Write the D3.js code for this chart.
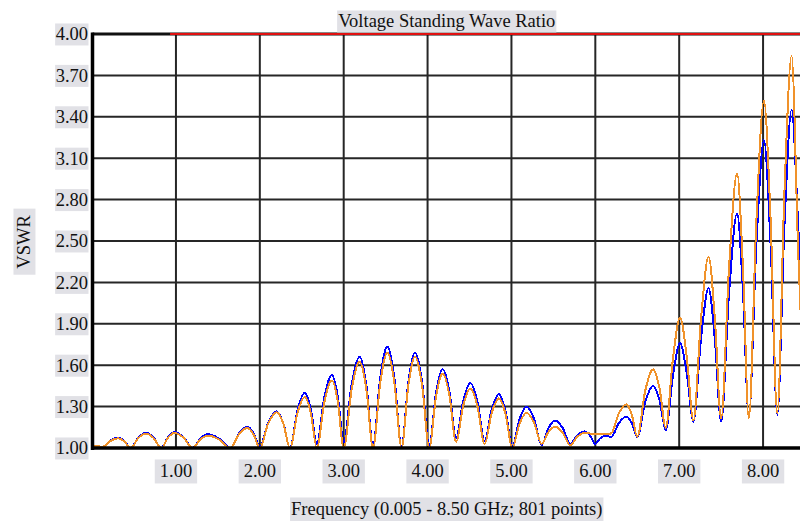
<!DOCTYPE html>
<html>
<head>
<meta charset="utf-8">
<script src="https://cdn.jsdelivr.net/npm/d3@7"></script>
<style>
    body { margin: 0; background: #fff; }
    text { font-family: "Liberation Serif", "Times New Roman", serif; fill: #111; }
</style>
</head>
<body>
<svg id="chart"></svg>
<script>
// values: nulls, flanks and peaks of each lobe
var freqs = [0.005, 0.13, 0.22, 0.31, 0.385, 0.46, 0.55, 0.645, 0.735, 0.825,
    0.905, 0.985, 1.09, 1.20, 1.29, 1.38, 1.515, 1.65, 1.75, 1.85,
    1.925, 2.00, 2.10, 2.20, 2.28, 2.36, 2.448, 2.536, 2.608, 2.68,
    2.77, 2.86, 2.93, 3.00, 3.095, 3.19, 3.27, 3.35, 3.435, 3.52,
    3.605, 3.69, 3.77, 3.85, 3.935, 4.02, 4.10, 4.18, 4.26, 4.34,
    4.425, 4.51, 4.595, 4.68, 4.765, 4.85, 4.93, 5.01, 5.095, 5.18,
    5.27, 5.36, 5.44, 5.52, 5.61, 5.70, 5.785, 5.87, 5.935, 6.00,
    6.055, 6.11, 6.15, 6.19, 6.28, 6.37, 6.435, 6.50, 6.595, 6.69,
    6.765, 6.84, 6.925, 7.01, 7.09, 7.17, 7.26, 7.35, 7.425, 7.50,
    7.595, 7.69, 7.76, 7.83, 7.92, 8.01, 8.09, 8.17, 8.255, 8.34,
    8.42, 8.50];
var vswrBlue = [1.015, 1.01, 1.054, 1.075, 1.051, 1.00, 1.075, 1.11, 1.075, 1.00,
    1.078, 1.115, 1.078, 1.00, 1.068, 1.10, 1.068, 1.00, 1.105, 1.155,
    1.109, 1.01, 1.183, 1.265, 1.18, 1.00, 1.272, 1.40, 1.282, 1.03,
    1.37, 1.53, 1.373, 1.04, 1.462, 1.66, 1.455, 1.02, 1.506, 1.735,
    1.503, 1.01, 1.472, 1.69, 1.476, 1.02, 1.394, 1.57, 1.41, 1.07,
    1.342, 1.47, 1.336, 1.05, 1.281, 1.39, 1.268, 1.01, 1.207, 1.30,
    1.21, 1.02, 1.142, 1.20, 1.146, 1.03, 1.091, 1.12, 1.091, 1.03,
    1.069, 1.087, 1.085, 1.08, 1.18, 1.227, 1.18, 1.08, 1.332, 1.45,
    1.348, 1.13, 1.521, 1.76, 1.543, 1.19, 1.79, 2.157, 1.79, 1.19,
    2.126, 2.70, 2.14, 1.227, 2.469, 3.23, 2.474, 1.24, 2.61, 3.45,
    2.6, 1.50];
var vswrOrange = [1.015, 1.01, 1.051, 1.07, 1.048, 1.00, 1.071, 1.105, 1.071, 1.00,
    1.075, 1.11, 1.075, 1.00, 1.061, 1.09, 1.061, 1.00, 1.099, 1.145,
    1.099, 1.00, 1.177, 1.26, 1.177, 1.00, 1.252, 1.37, 1.252, 1.00,
    1.333, 1.49, 1.333, 1.00, 1.425, 1.625, 1.425, 1.00, 1.469, 1.69,
    1.469, 1.00, 1.449, 1.66, 1.449, 1.00, 1.367, 1.54, 1.382, 1.045,
    1.307, 1.43, 1.302, 1.03, 1.254, 1.36, 1.245, 1.00, 1.173, 1.255,
    1.183, 1.03, 1.115, 1.155, 1.112, 1.02, 1.081, 1.11, 1.105, 1.10,
    1.10, 1.10, 1.103, 1.106, 1.25, 1.317, 1.242, 1.082, 1.414, 1.57,
    1.435, 1.147, 1.643, 1.947, 1.663, 1.20, 1.935, 2.386, 1.941, 1.215,
    2.316, 2.99, 2.316, 1.215, 2.642, 3.517, 2.656, 1.25, 2.856, 3.84,
    2.4, 1.20];
var limitFreqs = [0.93, 8.50];
var limitVswr = [4.00, 4.00];

var xTicks = [1, 2, 3, 4, 5, 6, 7, 8];
var yTicks = [1.00, 1.30, 1.60, 1.90, 2.20, 2.50, 2.80, 3.10, 3.40, 3.70, 4.00];

var chartTitle = "Voltage Standing Wave Ratio";
var xTitle = "Frequency (0.005 - 8.50 GHz; 801 points)";
var yTitle = "VSWR";

(function () {
    var width = 800, height = 521;
    var plotL = 92.5, plotR = 805, plotT = 34, plotB = 448;
    var fontSize = "18.5px";

    var svg = d3.select("#chart")
        .attr("width", width)
        .attr("height", height);

    var x = d3.scaleLinear().domain([0.005, 8.5]).range([plotL, plotR]);
    var y = d3.scaleLinear().domain([1, 4]).range([plotB, plotT]);

    // grey box behind a text
    function boxIt(sel, padX, padY) {
        sel.each(function () {
            var node = this;
            var b = node.getBBox();
            d3.select(node.parentNode).insert("rect", function () { return node; })
                .attr("x", b.x - padX)
                .attr("y", b.y - padY)
                .attr("width", b.width + 2 * padX)
                .attr("height", b.height + 2 * padY)
                .attr("fill", "#e1e1e6");
        });
    }

    // grid
    var grid = svg.append("g");
    grid.selectAll(".vg")
        .data(xTicks)
        .enter().append("line")
        .attr("class", "vg")
        .attr("x1", function (d) { return x(d); })
        .attr("x2", function (d) { return x(d); })
        .attr("y1", plotT)
        .attr("y2", plotB)
        .attr("stroke", "#262626")
        .attr("stroke-width", 2);
    grid.selectAll(".hg")
        .data(yTicks.slice(1, -1))
        .enter().append("line")
        .attr("class", "hg")
        .attr("x1", plotL)
        .attr("x2", plotR)
        .attr("y1", function (d) { return y(d); })
        .attr("y2", function (d) { return y(d); })
        .attr("stroke", "#262626")
        .attr("stroke-width", 2);

    // top frame
    svg.append("line")
        .attr("x1", plotL).attr("x2", plotR)
        .attr("y1", plotT).attr("y2", plotT)
        .attr("stroke", "#111").attr("stroke-width", 3);

    // traces
    var line = d3.line()
        .x(function (d, i) { return x(freqs[i]); })
        .y(function (d) { return y(d); })
        .curve(d3.curveMonotoneX);

    var plot = svg.append("g");
    plot.append("path")
        .datum(vswrBlue)
        .attr("d", line)
        .attr("fill", "none")
        .attr("stroke", "#0000ff")
        .attr("stroke-width", 2)
        .style("shape-rendering", "crispEdges");

    plot.append("path")
        .datum(vswrOrange)
        .attr("d", line)
        .attr("fill", "none")
        .attr("stroke", "#f0922a")
        .attr("stroke-width", 2)
        .style("shape-rendering", "crispEdges");

    // limit line
    plot.append("path")
        .datum(limitVswr)
        .attr("d", d3.line()
            .x(function (d, i) { return x(limitFreqs[i]); })
            .y(function (d) { return y(d); }))
        .attr("fill", "none")
        .attr("stroke", "#e01010")
        .attr("stroke-width", 2);

    // axis lines
    svg.append("line")
        .attr("x1", plotL).attr("x2", plotL)
        .attr("y1", plotT - 1.5).attr("y2", plotB + 2)
        .attr("stroke", "#000").attr("stroke-width", 3.5);
    svg.append("line")
        .attr("x1", plotL).attr("x2", plotR)
        .attr("y1", plotB).attr("y2", plotB)
        .attr("stroke", "#000").attr("stroke-width", 3.5);

    // tick labels
    var yLab = svg.append("g").selectAll("g")
        .data(yTicks)
        .enter().append("g");
    yLab.append("text")
        .attr("x", plotL - 4.5)
        .attr("y", function (d) { return y(d); })
        .attr("dy", "0.35em")
        .attr("text-anchor", "end")
        .style("font-size", fontSize)
        .text(function (d) { return d3.format(".2f")(d); })
        .call(boxIt, 0.5, 1);

    var xLab = svg.append("g").selectAll("g")
        .data(xTicks)
        .enter().append("g");
    xLab.append("text")
        .attr("x", function (d) { return x(d); })
        .attr("y", 471)
        .attr("dy", "0.35em")
        .attr("text-anchor", "middle")
        .style("font-size", fontSize)
        .text(function (d) { return d3.format(".2f")(d); })
        .call(boxIt, 5, 2);

    // titles
    svg.append("g").append("text")
        .attr("x", (plotL + plotR) / 2 - 2)
        .attr("y", 21)
        .attr("dy", "0.35em")
        .attr("text-anchor", "middle")
        .style("font-size", fontSize)
        .text(chartTitle)
        .call(boxIt, 1, 1);

    svg.append("g").append("text")
        .attr("x", (plotL + plotR) / 2 - 2)
        .attr("y", 509)
        .attr("dy", "0.35em")
        .attr("text-anchor", "middle")
        .style("font-size", fontSize)
        .text(xTitle)
        .call(boxIt, 1, 2);

    svg.append("g")
        .attr("transform", "translate(24,242) rotate(-90)")
        .append("text")
        .attr("x", 0)
        .attr("y", 0)
        .attr("dy", "0.35em")
        .attr("text-anchor", "middle")
        .style("font-size", fontSize)
        .text(yTitle)
        .call(boxIt, 6, 1);
})();
</script>
</body>
</html>
